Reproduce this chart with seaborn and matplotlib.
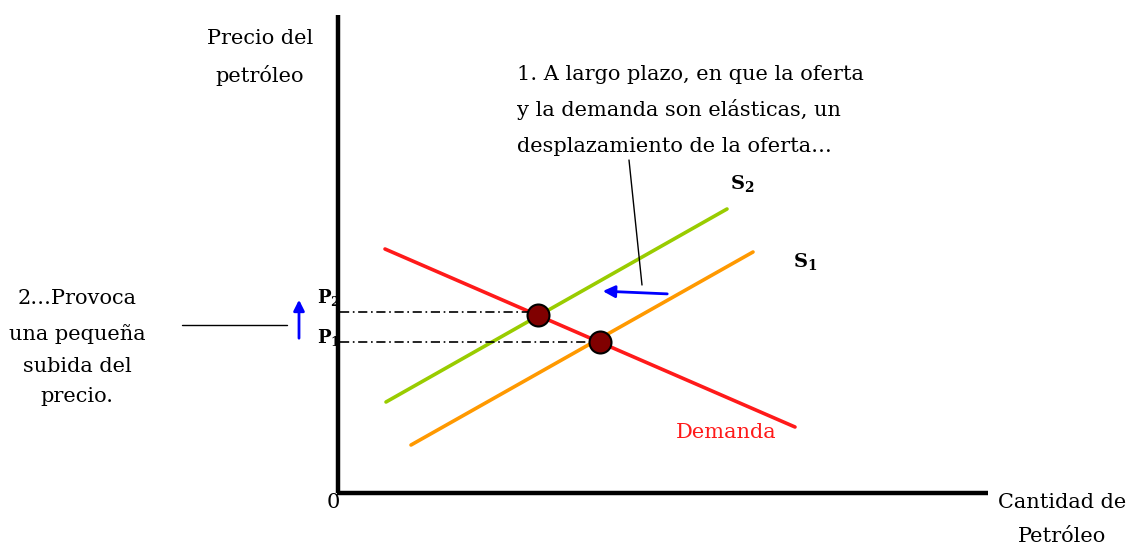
import matplotlib
matplotlib.use("Agg")
import matplotlib.pyplot as plt
import seaborn as sns
import pandas as pd

# Datos del gráfico (unidades: cantidad / precio, origen en la esquina de los ejes)
demanda_q = [47, 457]
demanda_p = [244, 66]
oferta2_q = [48, 389]
oferta2_p = [91, 284]
oferta1_q = [73, 415]
oferta1_p = [48, 241]
equilibrio_q = [200, 262]
equilibrio_p = [178, 151]
precios = [181, 151]
etiquetas_precio = ["P$_\\mathbf{2}$", "P$_\\mathbf{1}$"]

sns.set_theme(style="white")
plt.rcParams['font.family'] = ['DejaVu Serif']
plt.rcParams['mathtext.fontset'] = 'dejavuserif'
plt.rcParams['text.color'] = 'black'

fig = plt.figure(figsize=(11.37, 5.47), dpi=100)
ax = fig.add_axes([0, 0, 1, 1])
ax.set_xlim(-338, 1137 - 338)
ax.set_ylim(-(547 - 493), 493)

df_d = pd.DataFrame({"q": demanda_q, "p": demanda_p})
df_s2 = pd.DataFrame({"q": oferta2_q, "p": oferta2_p})
df_s1 = pd.DataFrame({"q": oferta1_q, "p": oferta1_p})
sns.lineplot(data=df_d, x="q", y="p", color="#FF1A1A", lw=2.6, ax=ax)
sns.lineplot(data=df_s2, x="q", y="p", color="#99CC00", lw=2.6, ax=ax)
sns.lineplot(data=df_s1, x="q", y="p", color="#FF9900", lw=2.6, ax=ax)

# líneas punteadas de los precios
for q, p in zip(equilibrio_q, precios):
    ax.plot([2, q], [p, p], color="black", lw=1.2, ls=(0, (5.5, 2.2, 1, 2.2)))

df_eq = pd.DataFrame({"q": equilibrio_q, "p": equilibrio_p})
sns.scatterplot(data=df_eq, x="q", y="p", s=250, color="#800000",
                edgecolor="black", linewidth=1.5, zorder=5, ax=ax)

# ejes
ax.plot([0, 0], [0, 478], color="black", lw=3.2, solid_capstyle="butt")
ax.plot([-1.5, 650], [0, 0], color="black", lw=3.2, solid_capstyle="butt")
for s in ax.spines.values():
    s.set_visible(False)
ax.set_xticks([])
ax.set_yticks([])
ax.set_xlabel("")
ax.set_ylabel("")

fs = 15
ax.text(-78, 455, "Precio del", fontsize=fs, ha="center", va="center")
ax.text(-78, 418, "petróleo", fontsize=fs, ha="center", va="center")
ax.text(-5, -10, "0", fontsize=fs, ha="center", va="center")
ax.text(724, -9, "Cantidad de", fontsize=fs, ha="center", va="center")
ax.text(724, -44, "Petróleo", fontsize=fs, ha="center", va="center")

ax.text(179, 418, "1. A largo plazo, en que la oferta", fontsize=fs, ha="left", va="center")
ax.text(179, 383, "y la demanda son elásticas, un", fontsize=fs, ha="left", va="center")
ax.text(179, 347, "desplazamiento de la oferta…", fontsize=fs, ha="left", va="center")
ax.plot([291, 304], [333, 208], color="black", lw=1.0)
ax.annotate("", xy=(262, 202), xytext=(332, 199),
            arrowprops=dict(arrowstyle="-|>", color="#0000FF", lw=2, mutation_scale=18))

ax.text(392, 310, "S$_\\mathbf{2}$", fontsize=14, fontweight="bold", ha="left", va="center")
ax.text(455, 231, "S$_\\mathbf{1}$", fontsize=14, fontweight="bold", ha="left", va="center")
ax.text(338, 61, "Demanda", fontsize=fs, color="#FF1A1A", ha="left", va="center")

for p, lab in zip([195, 156], etiquetas_precio):
    ax.text(-21, p, lab, fontsize=13, fontweight="bold", ha="left", va="center")
ax.annotate("", xy=(-39, 196), xytext=(-39, 152),
            arrowprops=dict(arrowstyle="-|>", color="#0000FF", lw=2, mutation_scale=16))

ax.plot([-156, -51], [168, 168], color="black", lw=1.0)
for y, t in zip([194, 159, 127, 96],
                ["2…Provoca", "una pequeña", "subida del", "precio."]):
    ax.text(-261, y, t, fontsize=fs, ha="center", va="center")

fig.savefig("out.png", dpi=100, facecolor="white")
